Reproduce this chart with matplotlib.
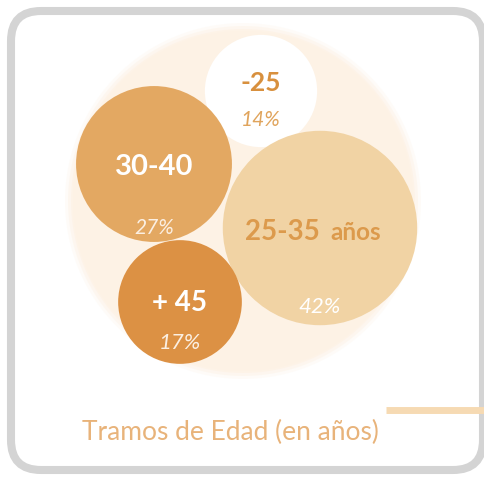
import numpy as np
import matplotlib
matplotlib.use("Agg")
import matplotlib.pyplot as plt
from matplotlib.patches import Circle, FancyBboxPatch

# data
groups = ["-25", "30-40", "25-35", "+ 45"]
shares = [14, 27, 42, 17]
share_labels = [f"{s}%" for s in shares]

# layout (pixel space, y down)
centers = [(261, 92), (154, 165), (320, 229), (180, 303)]
fills = ["#ffffff", "#e3a862", "#f1d3a4", "#dc9144"]
name_colors = ["#d8903e", "#ffffff", "#dc9a4c", "#ffffff"]
pct_colors = ["#e0a45c", "#fbefe2", "#ffffff", "#fbefe2"]
name_offsets = [-9, 2, 3, 0]
pct_offsets = [28, 63, 78, 40]
name_sizes = [19, 21, 20, 20]
pct_sizes = [15, 15, 16, 16]
k = 15.0  # radius per sqrt(percent)

W, H = 485, 481
fig = plt.figure(figsize=(W / 100, H / 100), dpi=100)
ax = fig.add_axes([0, 0, 1, 1])
ax.set_xlim(0, W)
ax.set_ylim(H, 0)
ax.axis("off")

font = "Lato"

# frame
ax.add_patch(FancyBboxPatch((11 + 30, 12 + 30), 472 - 60, 459 - 60,
                            boxstyle="round,pad=30", fc="white",
                            ec="#d4d4d4", lw=5.8, zorder=0))

# pale backdrop circle with a soft rim
for dr, a in zip([8, 5, 2, 0], [0.25, 0.45, 0.7, 1.0]):
    ax.add_patch(Circle((243, 202), 174 + dr - 4, fc="#fdf2e5", ec="none",
                        alpha=a, zorder=1))

for i, g in enumerate(groups):
    cx, cy = centers[i]
    r = k * np.sqrt(shares[i])
    ax.add_patch(Circle((cx, cy), r, fc=fills[i], ec="none", zorder=2))
    if g == "25-35":
        ax.text(cx, cy + name_offsets[i], g, ha="right", va="center",
                fontsize=name_sizes[i], fontweight="bold", color=name_colors[i],
                family=font, zorder=3)
        ax.text(cx + 10, cy + name_offsets[i] + 1, "años", ha="left", va="center",
                fontsize=17.5, fontweight="bold", color=name_colors[i],
                family=font, zorder=3)
    else:
        ax.text(cx, cy + name_offsets[i], g, ha="center", va="center",
                fontsize=name_sizes[i], fontweight="bold", color=name_colors[i],
                family=font, zorder=3)
    ax.text(cx, cy + pct_offsets[i], share_labels[i], ha="center", va="center",
            fontsize=pct_sizes[i], style="italic", color=pct_colors[i],
            family=font, zorder=3)

# caption and rule
ax.text(230, 432, "Tramos de Edad (en años)", ha="center", va="center",
        fontsize=19, color="#e8b37a", family=font, zorder=3)
ax.plot([386, 485], [411, 411], color="#f6dab3", lw=5, solid_capstyle="butt",
        zorder=3)

fig.savefig("out.png", dpi=100)
